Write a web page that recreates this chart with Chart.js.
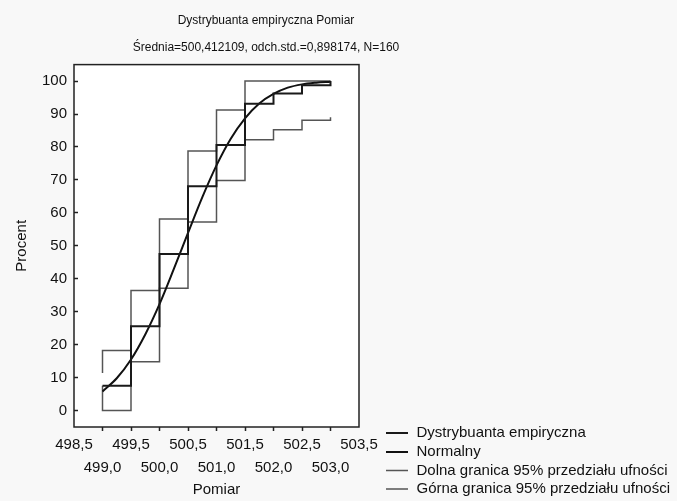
<!DOCTYPE html>
<html><head><meta charset="utf-8">
<script src="https://cdn.jsdelivr.net/npm/chart.js@4.4.1/dist/chart.umd.min.js"></script>
<style>html,body{margin:0;padding:0;background:#f8f8f8;} #wrap{width:677px;height:501px;position:relative;}</style>
</head><body><div id="wrap"><canvas id="c"></canvas></div>
<script>
// ---- data ----
const stepX = [499.0, 499.5, 500.0, 500.5, 501.0, 501.5, 502.0, 502.5, 503.0];
const empiricalPct = [7.5, 25.6, 47.5, 68.1, 80.6, 93.1, 96.25, 98.75, 100];
const upperStartPct = 11.4;
const upperPct = [18.2, 36.4, 58.1, 78.8, 91.2, 100, 100, 100, 100];
const lowerStartPct = 7.5;
const lowerPct = [0, 14.8, 37.1, 57.2, 69.8, 82.2, 85.2, 88.1, 89.0];
const normalX = [499.0, 499.25, 499.5, 499.75, 500.0, 500.25, 500.5, 500.75, 501.0, 501.25, 501.5, 501.75, 502.0, 502.25, 502.5, 502.75, 503.0];
const normalPct = [5.8, 9.8, 15.5, 23.1, 32.3, 42.9, 53.9, 64.7, 74.4, 82.5, 88.7, 93.2, 96.1, 98.0, 99.0, 99.5, 99.8];
const yTickValues = [0, 10, 20, 30, 40, 50, 60, 70, 80, 90, 100];
const upperRowLabels = ['498,5', '499,5', '500,5', '501,5', '502,5', '503,5'];
const lowerRowLabels = ['499,0', '500,0', '501,0', '502,0', '503,0'];
const seriesNames = ['Dystrybuanta empiryczna', 'Normalny', 'Dolna granica 95% przedziału ufności', 'Górna granica 95% przedziału ufności'];
const titleText = 'Dystrybuanta empiryczna Pomiar';
const subtitleText = 'Średnia=500,412109, odch.std.=0,898174, N=160';
const xTitle = 'Pomiar';
const yTitle = 'Procent';

// ---- build point lists ----
const pts = (xs, ys) => xs.map((x, i) => ({x: x, y: ys[i]}));
const empiricalPts = pts(stepX, empiricalPct);
const upperPts = [{x: stepX[0], y: upperStartPct}].concat(pts(stepX, upperPct));
const lowerPts = [{x: stepX[0], y: lowerStartPct}].concat(pts(stepX, lowerPct));
const normalPts = pts(normalX, normalPct);

const FONT = "'Liberation Sans', Arial, sans-serif";
const TXT = '#111';

const bgPlugin = {
  id: 'bgPlugin',
  beforeDraw(chart) {
    const {ctx, chartArea: a} = chart;
    ctx.save();
    ctx.fillStyle = '#f8f8f8';
    ctx.fillRect(0, 0, chart.width, chart.height);
    ctx.fillStyle = '#ffffff';
    ctx.fillRect(a.left, a.top, a.right - a.left, a.bottom - a.top);
    ctx.restore();
  },
  afterDatasetsDraw(chart) {
    const {ctx, chartArea: a} = chart;
    ctx.save();
    ctx.strokeStyle = '#222';
    ctx.lineWidth = 1.5;
    ctx.strokeRect(a.left, a.top, a.right - a.left, a.bottom - a.top);
    ctx.restore();
  }
};

const legendPlugin = {
  id: 'sideLegend',
  afterDraw(chart) {
    const {ctx} = chart;
    const rowsY = [433, 452, 470.5, 489];
    ctx.save();
    ctx.font = '15px ' + FONT;
    ctx.textBaseline = 'middle';
    ctx.textAlign = 'left';
    chart.data.datasets.forEach((ds, i) => {
      const y = rowsY[i];
      ctx.strokeStyle = ds.borderColor;
      ctx.lineWidth = ds.borderWidth;
      ctx.beginPath();
      ctx.moveTo(386, y);
      ctx.lineTo(408, y);
      ctx.stroke();
      ctx.fillStyle = TXT;
      ctx.fillText(ds.label, 416.5, y);
    });
    ctx.restore();
  }
};

new Chart(document.getElementById('c'), {
  type: 'line',
  data: {
    datasets: [
      {label: seriesNames[0], data: empiricalPts, stepped: 'before', borderColor: '#1a1a1a', borderWidth: 2, pointRadius: 0, fill: false},
      {label: seriesNames[1], data: normalPts, borderColor: '#111', borderWidth: 2, pointRadius: 0, fill: false, tension: 0.4, cubicInterpolationMode: 'monotone'},
      {label: seriesNames[2], data: lowerPts, stepped: 'before', borderColor: '#555', borderWidth: 1.5, pointRadius: 0, fill: false},
      {label: seriesNames[3], data: upperPts, stepped: 'before', borderColor: '#555', borderWidth: 1.5, pointRadius: 0, fill: false}
    ]
  },
  options: {
    responsive: true,
    maintainAspectRatio: false,
    animation: false,
    layout: {padding: {left: 0, right: 145, top: 0, bottom: 0}},
    plugins: {
      legend: {display: false},
      tooltip: {enabled: false},
      title: {display: true, text: titleText, color: TXT, font: {family: FONT, size: 12, weight: 'normal'}, padding: {top: 13, bottom: 0}},
      subtitle: {display: true, text: subtitleText, color: TXT, font: {family: FONT, size: 12, weight: 'normal'}, padding: {top: 13.5, bottom: 9.3}}
    },
    scales: {
      x: {
        type: 'linear', position: 'bottom', min: 498.5, max: 503.5,
        afterFit(s) { s.height = 74; },
        border: {display: false},
        grid: {display: true, drawOnChartArea: false, drawTicks: true, tickLength: 4,
          tickColor: (c) => (c.index === 0 || c.index === 10) ? 'rgba(0,0,0,0)' : '#222', tickWidth: 1.5},
        ticks: {
          stepSize: 0.5, includeBounds: false, autoSkip: false, maxRotation: 0, minRotation: 0, padding: 2,
          color: TXT, font: {family: FONT, size: 15, lineHeight: '23px'},
          callback: (v, i) => (i % 2 === 0) ? [upperRowLabels[i / 2], ''] : ['', lowerRowLabels[(i - 1) / 2]]
        },
        title: {display: true, text: xTitle, color: TXT, font: {family: FONT, size: 15}, padding: {top: 0, bottom: 2}}
      },
      y: {
        type: 'linear', position: 'left', min: -5, max: 105,
        afterFit(s) { s.width = 74; },
        afterBuildTicks(s) { s.ticks = yTickValues.map(v => ({value: v})); },
        border: {display: false},
        grid: {display: true, drawOnChartArea: false, drawTicks: true, tickLength: -4, tickColor: '#222', tickWidth: 1.5},
        ticks: {padding: 11, color: TXT, font: {family: FONT, size: 15}},
        title: {display: true, text: yTitle, color: TXT, font: {family: FONT, size: 15}, padding: {top: 13, bottom: 0}}
      },
      yr: {
        type: 'linear', position: 'right', display: true,
        afterFit(s) { s.width = 173; },
        grid: {display: false}, ticks: {display: false}, border: {display: false}
      }
    }
  },
  plugins: [bgPlugin, legendPlugin]
});
</script>
</body></html>
